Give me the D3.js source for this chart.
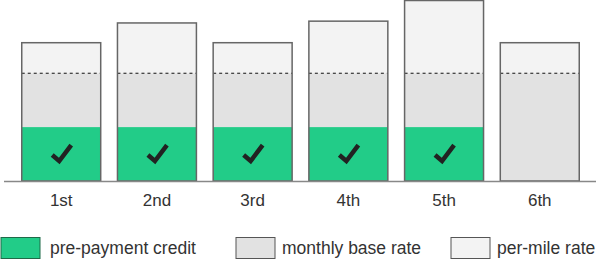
<!DOCTYPE html>
<html>
<head>
<meta charset="utf-8">
<script src="https://cdn.jsdelivr.net/npm/d3@7.9.0/dist/d3.min.js"></script>
<style>
  body { margin: 0; background: #fff; }
  text { font-family: "Liberation Sans", Arial, sans-serif; fill: #333; }
</style>
</head>
<body>
<svg id="chart"></svg>
<script>
// --- Data ---
const months = ["1st", "2nd", "3rd", "4th", "5th", "6th"];
const baseRate = [120, 120, 120, 120, 120, 120];
const credit = [60, 60, 60, 60, 60, 0];
const perMile = [34, 56, 34, 58, 81, 34];
const legendLabels = ["pre-payment credit", "monthly base rate", "per-mile rate"];

const width = 600;
const height = 260;
const baseline = 181;

const colors = { credit: "#22cc88", base: "#e2e2e2", mile: "#f3f3f3" };

const svg = d3.select("#chart")
  .attr("width", width)
  .attr("height", height);

// --- Scales ---
const x = d3.scaleBand()
  .domain(months)
  .range([5, 596])
  .paddingInner(0.175)
  .paddingOuter(0.175);

const y = d3.scaleLinear()
  .domain([0, 201])
  .range([baseline, 0.5]);

const rows = months.map((m, i) => ({
  month: m,
  base: baseRate[i],
  credit: credit[i],
  mile: perMile[i]
}));

const bars = svg.append("g").selectAll("g")
  .data(rows)
  .join("g")
  .attr("transform", d => `translate(${x(d.month)},0)`);

// per-mile segment (top)
bars.append("rect")
  .attr("y", d => y(d.base + d.mile))
  .attr("width", x.bandwidth())
  .attr("height", d => y(d.base) - y(d.base + d.mile))
  .attr("fill", colors.mile);

// base rate segment
bars.append("rect")
  .attr("y", d => y(d.base))
  .attr("width", x.bandwidth())
  .attr("height", d => y(0) - y(d.base))
  .attr("fill", colors.base);

// credit overlay
bars.filter(d => d.credit > 0).append("rect")
  .attr("y", d => y(d.credit))
  .attr("width", x.bandwidth())
  .attr("height", d => y(0) - y(d.credit))
  .attr("fill", colors.credit);

// dotted divider
bars.append("line")
  .attr("x1", 0)
  .attr("x2", x.bandwidth())
  .attr("y1", d => y(d.base))
  .attr("y2", d => y(d.base))
  .attr("stroke", "#111")
  .attr("stroke-width", 1)
  .attr("stroke-dasharray", "3,3");

// outline
bars.append("rect")
  .attr("y", d => y(d.base + d.mile))
  .attr("width", x.bandwidth())
  .attr("height", d => y(0) - y(d.base + d.mile))
  .attr("fill", "none")
  .attr("stroke", "#666")
  .attr("stroke-width", 1.5);

// checkmarks
bars.filter(d => d.credit > 0).append("path")
  .attr("d", d => {
    const cx = x.bandwidth() / 2;
    const cy = (y(d.credit) + y(0)) / 2;
    return `M${cx - 9},${cy + 1}L${cx - 2},${cy + 7}L${cx + 10},${cy - 9}`;
  })
  .attr("fill", "none")
  .attr("stroke", "#222")
  .attr("stroke-width", 4.5);

// baseline
svg.append("line")
  .attr("x1", 4)
  .attr("x2", 596)
  .attr("y1", baseline + 0.5)
  .attr("y2", baseline + 0.5)
  .attr("stroke", "#888")
  .attr("stroke-width", 1.5);

// month labels
svg.append("g").selectAll("text")
  .data(months)
  .join("text")
  .attr("x", d => x(d) + x.bandwidth() / 2)
  .attr("y", 206)
  .attr("text-anchor", "middle")
  .attr("font-size", 17)
  .text(d => d);

// --- Legend ---
const legendX = [1, 236, 451];
const legendFill = [colors.credit, colors.base, colors.mile];
const legendStroke = ["#1f6a48", "#555", "#555"];

const legend = svg.append("g").selectAll("g")
  .data(legendLabels)
  .join("g")
  .attr("transform", (d, i) => `translate(${legendX[i]},237.5)`);

legend.append("rect")
  .attr("width", 39)
  .attr("height", 21)
  .attr("fill", (d, i) => legendFill[i])
  .attr("stroke", (d, i) => legendStroke[i])
  .attr("stroke-width", 1);

legend.append("text")
  .attr("x", (d, i) => i === 0 ? 49 : 46)
  .attr("y", 16)
  .attr("font-size", 17.5)
  .text(d => d);
</script>
</body>
</html>
